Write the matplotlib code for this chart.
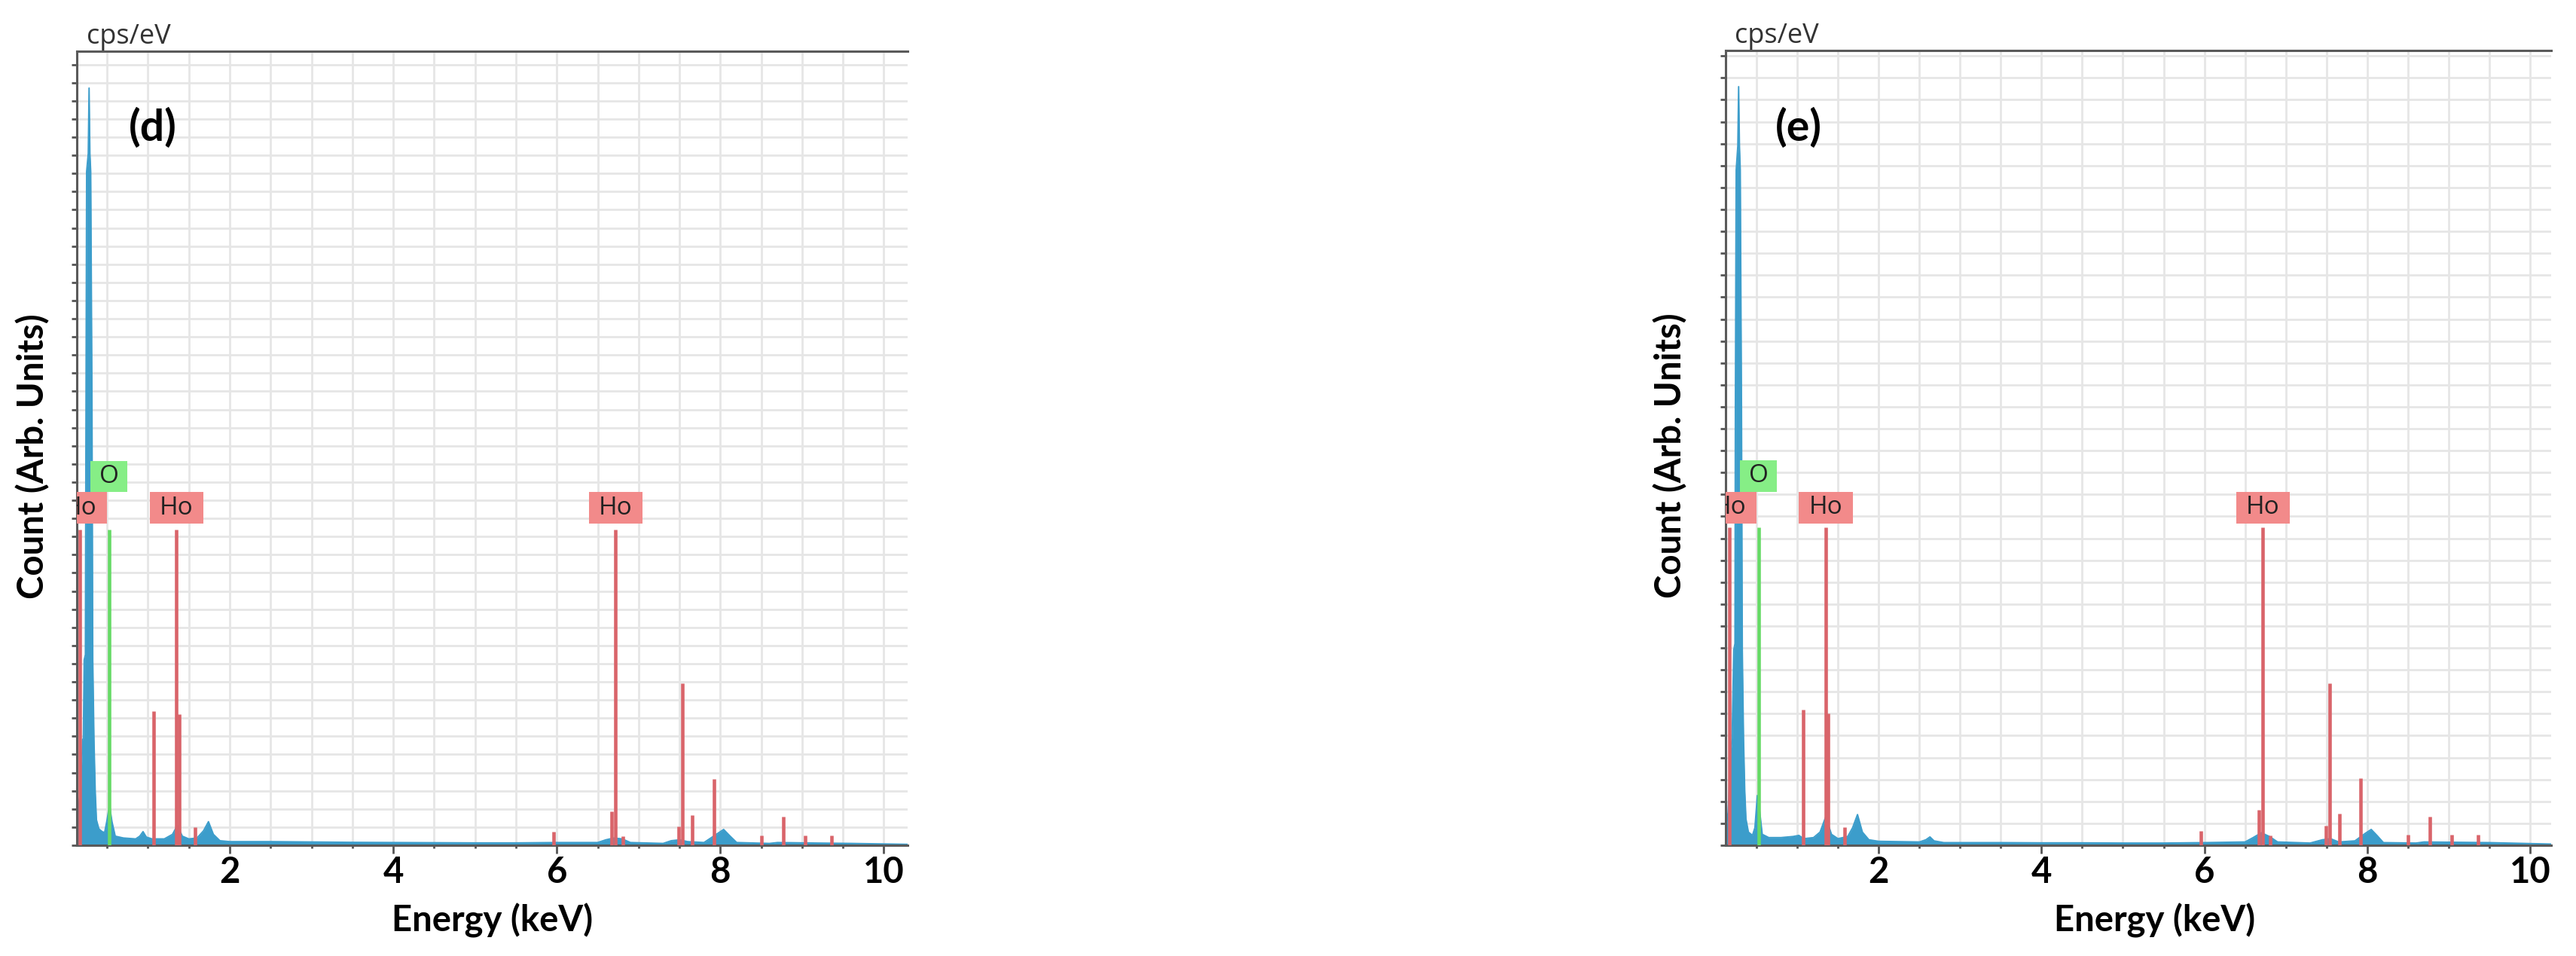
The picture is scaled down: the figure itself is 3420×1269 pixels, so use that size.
import matplotlib.pyplot as plt
import matplotlib.transforms as mtransforms
from matplotlib.patches import Rectangle
import numpy as np

plt.rcParams['font.family'] = ['Lato', 'DejaVu Sans']

# spectrum (d): energy in keV, counts in cps/eV
energy_d = [0.12, 0.14, 0.16, 0.18, 0.20, 0.21, 0.22, 0.235, 0.24, 0.25, 0.27, 0.28, 0.29,
            0.30, 0.315, 0.325, 0.34, 0.355, 0.37, 0.40, 0.44, 0.47, 0.50, 0.53, 0.56, 0.60,
            0.70, 0.85, 0.90, 0.94, 0.98, 1.05, 1.20, 1.30, 1.36, 1.42, 1.50, 1.60, 1.68,
            1.74, 1.80, 1.88, 2.0, 2.5, 3.0, 3.5, 4.0, 4.5, 5.0, 5.5, 6.0, 6.5, 6.6, 6.7,
            6.8, 6.9, 7.3, 7.4, 7.5, 7.6, 7.8, 7.95, 8.04, 8.12, 8.2, 8.6, 8.7, 9.2, 9.6, 10.3]
counts_d = [0.3, 1.2, 2.5, 3.0, 5.8, 5.9, 10.2, 10.5, 20, 37.1, 38.1, 41.7, 38.1,
            37.1, 25, 10.2, 5.8, 3.0, 1.4, 0.9, 0.75, 0.7, 1.4, 2.2, 1.3, 0.5,
            0.4, 0.35, 0.5, 0.75, 0.45, 0.35, 0.35, 0.6, 1.1, 0.5, 0.35, 0.4, 0.8,
            1.3, 0.6, 0.25, 0.2, 0.2, 0.18, 0.16, 0.15, 0.14, 0.13, 0.13, 0.15, 0.15, 0.3, 0.4,
            0.35, 0.15, 0.1, 0.25, 0.3, 0.2, 0.15, 0.6, 0.87, 0.5, 0.15, 0.1, 0.15, 0.12, 0.1, 0.05]

# spectrum (e)
energy_e = [0.12, 0.15, 0.18, 0.20, 0.22, 0.235, 0.24, 0.25, 0.27, 0.28, 0.29, 0.30, 0.315,
            0.325, 0.34, 0.355, 0.37, 0.40, 0.45, 0.48, 0.51, 0.54, 0.57, 0.65, 0.80, 0.95,
            1.02, 1.08, 1.20, 1.28, 1.35, 1.42, 1.50, 1.62, 1.68, 1.74, 1.80, 1.88, 2.0, 2.5,
            2.58, 2.63, 2.68, 2.8, 3.5, 4.0, 4.5, 5.0, 5.5, 6.0, 6.5, 6.6, 6.7, 6.8, 6.9, 7.3,
            7.45, 7.55, 7.65, 7.85, 7.98, 8.05, 8.12, 8.2, 8.6, 8.7, 9.5, 10.3]
counts_e = [0.5, 1.5, 4.0, 4.9, 8.9, 9.2, 20, 30.8, 31.9, 34.6, 31.9, 30.8, 20,
            8.9, 4.9, 2.5, 1.2, 0.6, 0.45, 0.8, 2.27, 1.5, 0.5, 0.35, 0.35, 0.4,
            0.45, 0.3, 0.35, 0.6, 1.3, 0.5, 0.3, 0.4, 0.8, 1.4, 0.6, 0.25, 0.18, 0.15,
            0.25, 0.38, 0.2, 0.12, 0.12, 0.11, 0.11, 0.1, 0.1, 0.12, 0.15, 0.35, 0.57, 0.4, 0.15, 0.1,
            0.25, 0.3, 0.15, 0.2, 0.55, 0.72, 0.45, 0.12, 0.1, 0.15, 0.12, 0.05]

# element marker lines
ho_energy = [0.165, 1.07, 1.35, 1.38, 1.58, 5.96, 6.67, 6.72, 6.81, 7.49, 7.54, 7.66, 7.92,
             8.50, 8.77, 9.04, 9.36]
ho_height_d = [17.4, 7.4, 17.4, 7.2, 1.0, 0.73, 1.88, 17.4, 0.5, 1.04, 8.9, 1.66, 3.64,
               0.53, 1.56, 0.53, 0.53]
ho_height_e = [14.5, 6.2, 14.5, 6.0, 0.83, 0.64, 1.63, 14.5, 0.45, 0.9, 7.4, 1.43, 3.07,
               0.47, 1.32, 0.49, 0.49]
o_energy = [0.525]
o_height_d = [17.4]
o_height_e = [14.5]

ho_label_energy = [0.165, 1.35, 6.72]
o_label_energy = [0.525]

x_ticks = [2, 4, 6, 8, 10]

blue = '#3C9DCB'
red = '#D9646A'
green = '#66DA66'
pink = '#F28A8A'
lightgreen = '#86EE86'


def draw_panel(ax, energy, counts, ho_h, o_h, ytop, xlim, letter, letter_x, xlab_x, ylab_x):
    ax.set_xlim(*xlim)
    ax.set_ylim(0, ytop)

    ax.fill_between(energy, counts, 0, color=blue, lw=0, zorder=2)
    ax.plot(energy, counts, color=blue, lw=1.4, zorder=2)
    ax.vlines(ho_energy, 0, ho_h, color=red, lw=3.3, zorder=3)
    ax.vlines(o_energy, 0, o_h, color=green, lw=3.3, zorder=3)

    trans = mtransforms.blended_transform_factory(ax.transData, ax.transAxes)
    for e in ho_label_energy:
        ax.add_patch(Rectangle((e - 0.33, 0.405), 0.66, 0.040, transform=trans,
                               fc=pink, ec='none', zorder=5, clip_on=True))
        ax.text(e, 0.425, 'Ho', transform=trans, ha='center', va='center', fontsize=24,
                family='Open Sans', color='#222222', zorder=6, clip_on=True)
    for e in o_label_energy:
        ax.add_patch(Rectangle((e - 0.225, 0.445), 0.45, 0.039, transform=trans,
                               fc=lightgreen, ec='none', zorder=5, clip_on=True))
        ax.text(e, 0.4645, 'O', transform=trans, ha='center', va='center', fontsize=24,
                family='Open Sans', color='#222222', zorder=6, clip_on=True)

    ax.set_yticks(np.arange(0, ytop, 1))
    ax.set_yticklabels([])
    ax.set_xticks(x_ticks, labels=[str(t) for t in x_ticks], fontsize=34, fontweight='bold')
    ax.set_xticks(np.arange(0.5, 10.3, 0.5), minor=True)
    ax.tick_params(axis='y', direction='out', length=5, width=2, color='#555555')
    ax.tick_params(axis='x', which='major', direction='out', length=8, width=2,
                   color='#555555', pad=2)
    ax.tick_params(axis='x', which='minor', direction='out', length=3, width=2,
                   color='#555555')
    ax.grid(True, which='both', color='#e6e6e6', lw=2)
    ax.set_axisbelow(True)

    ax.spines['right'].set_visible(False)
    for s in ['top', 'left', 'bottom']:
        ax.spines[s].set_color('#5a5a5a')
        ax.spines[s].set_linewidth(2.2)

    ax.set_xlabel('Energy (keV)', fontsize=34, fontweight='bold', va='center')
    ax.xaxis.set_label_coords(xlab_x, -0.095)
    ax.set_ylabel('Count (Arb. Units)', fontsize=34, fontweight='bold', va='center')
    ax.yaxis.set_label_coords(ylab_x, 0.49)

    ax.text(letter_x, 0.903, letter, transform=ax.transAxes, fontsize=41, fontweight='bold',
            ha='center', va='center')
    ax.text(0.062, 1.018, 'cps/eV', transform=ax.transAxes, fontsize=26, ha='center',
            va='center', family='Open Sans', color='#333333')


fig = plt.figure(figsize=(34.2, 12.69), dpi=100)
ax1 = fig.add_axes([0.02982, 0.11584, 0.32251, 0.83058])
ax2 = fig.add_axes([0.66988, 0.11584, 0.32047, 0.83136])

draw_panel(ax1, energy_d, counts_d, ho_height_d, o_height_d, 43.73, (0.13, 10.29), '(d)',
           0.091, 0.50, -0.0526)
draw_panel(ax2, energy_e, counts_e, ho_height_e, o_height_e, 36.25, (0.12, 10.26), '(e)',
           0.088, 0.52, -0.0666)

fig.savefig('out.png', dpi=100)
